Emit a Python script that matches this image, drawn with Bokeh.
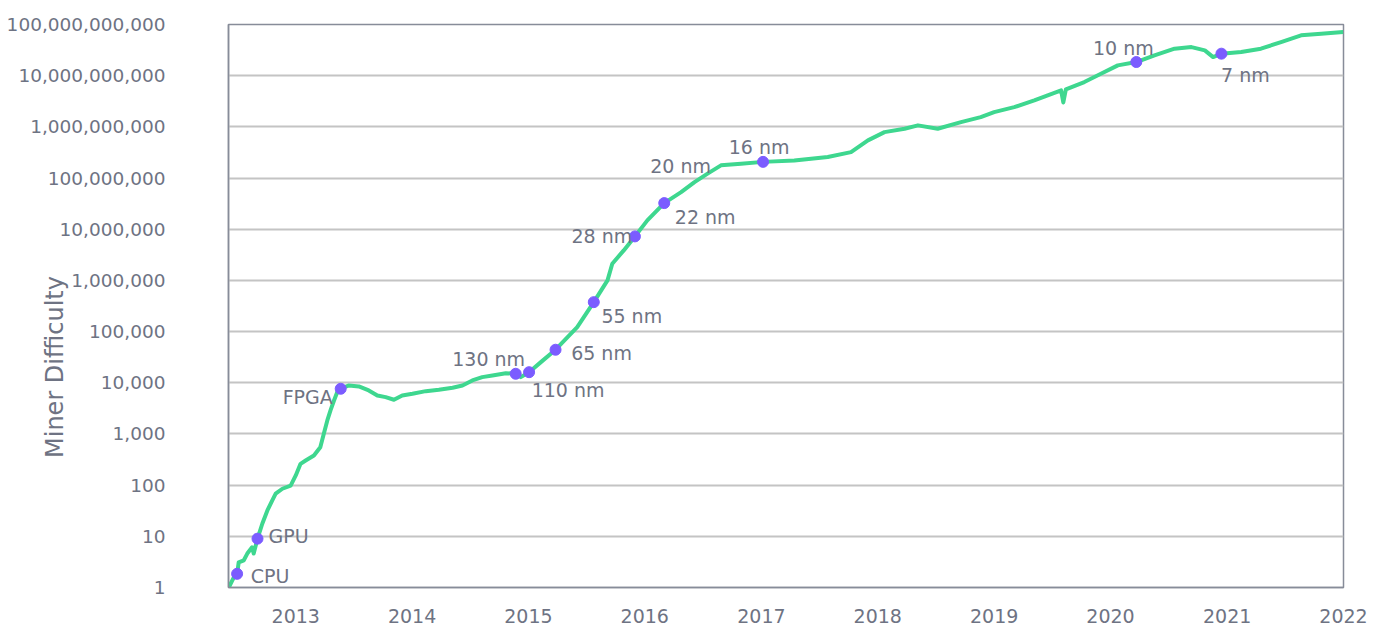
from datetime import datetime
from bokeh.plotting import figure
from bokeh.models import Range1d, FixedTicker, ColumnDataSource
from bokeh.core.properties import value
from bokeh.embed import file_html
from bokeh.resources import INLINE

# ---------------- data ----------------
dates = [
    "2012-06-05", "2012-06-21", "2012-07-01", "2012-07-06", "2012-07-22", "2012-08-02",
    "2012-08-17", "2012-08-22", "2012-09-03", "2012-09-18", "2012-10-04", "2012-10-19",
    "2012-10-30", "2012-11-20", "2012-12-16", "2013-01-01", "2013-01-16", "2013-02-01",
    "2013-02-27", "2013-03-19", "2013-03-30", "2013-04-10", "2013-04-20", "2013-05-01",
    "2013-05-11", "2013-05-22", "2013-06-17", "2013-07-18", "2013-08-18", "2013-09-14",
    "2013-10-10", "2013-11-05", "2013-12-01", "2014-01-02", "2014-02-13", "2014-03-26",
    "2014-05-08", "2014-06-08", "2014-07-09", "2014-08-09", "2014-09-10", "2014-10-22",
    "2014-11-22", "2014-12-08", "2015-01-03", "2015-02-09", "2015-03-27", "2015-06-03",
    "2015-07-25", "2015-09-06", "2015-09-21", "2015-10-27", "2015-12-01", "2016-01-09",
    "2016-03-02", "2016-04-24", "2016-06-05", "2016-07-16", "2016-08-27", "2016-10-29",
    "2017-01-06", "2017-04-14", "2017-07-28", "2017-10-09", "2017-12-01", "2018-01-22",
    "2018-03-26", "2018-05-07", "2018-07-08", "2018-09-19", "2018-11-20", "2019-01-01",
    "2019-03-05", "2019-05-07", "2019-06-18", "2019-07-30", "2019-08-06", "2019-08-14",
    "2019-10-11", "2019-12-02", "2020-01-24", "2020-03-22", "2020-05-18", "2020-07-20",
    "2020-09-11", "2020-10-23", "2020-11-18", "2020-12-14", "2021-02-14", "2021-04-17",
    "2021-06-19", "2021-08-21", "2021-10-23", "2021-12-31",
]
difficulty = [
    1.0, 1.6, 1.85, 3.1, 3.4, 4.6,
    6.1, 4.6, 9.0, 17.6, 32, 50,
    68, 85, 98, 155, 261, 303,
    380, 552, 1010, 1840, 2880, 4510,
    6550, 7640, 8870, 8480, 7080, 5650,
    5240, 4660, 5650, 6100, 6860, 7310,
    8000, 8870, 11100, 12900, 13900, 15400,
    15000, 12900, 16100, 25300, 44200, 122000,
    376000, 1.0e6, 2.12e6, 3.86e6, 7.24e6, 1.49e7,
    3.24e7, 5.3e7, 8.3e7, 1.22e8, 1.77e8, 1.91e8,
    2.07e8, 2.21e8, 2.57e8, 3.21e8, 5.44e8, 7.9e8,
    9.2e8, 1.07e9, 9.2e8, 1.24e9, 1.55e9, 1.94e9,
    2.43e9, 3.29e9, 4.12e9, 5.16e9, 3.0e9, 5.4e9,
    7.5e9, 1.09e10, 1.59e10, 1.85e10, 2.49e10, 3.37e10,
    3.62e10, 3.12e10, 2.31e10, 2.69e10, 2.89e10, 3.37e10,
    4.54e10, 6.14e10, 6.62e10, 7.11e10,
]

milestone_names = ["CPU", "GPU", "FPGA", "130 nm", "110 nm", "65 nm", "55 nm",
                   "28 nm", "22 nm", "16 nm", "10 nm", "7 nm"]
milestone_dates = ["2012-07-01", "2012-09-03", "2013-05-22", "2014-11-22", "2015-01-03",
                   "2015-03-27", "2015-07-25", "2015-12-01", "2016-03-02", "2017-01-06",
                   "2020-03-22", "2020-12-14"]
milestone_values = [1.85, 9.0, 7640, 15000, 16100, 44200, 376000,
                    7.24e6, 3.24e7, 2.07e8, 1.85e10, 2.69e10]

# label without a visible marker
extra_label_names = ["20 nm"]
extra_label_dates = ["2016-07-16"]
extra_label_values = [1.22e8]

y_title = "Miner Difficulty"
year_ticks = list(range(2013, 2023))
decade_ticks = [10 ** k for k in range(0, 12)]

# ---------------- styling ----------------
GREEN = "#3ed78f"
PURPLE = "#7b5cff"
TEXT = "#6e7383"
FONT = "DejaVu Sans"
AXIS = "#878c99"

# label offsets (screen px) for each milestone label, in order
dot_dx = [33, 31, -33, -27, 39, 46, 38, -33, 41, -4, -13, 24]
dot_dy = [2, -3, 8, -15, 18, 3, 14, 0, 14, -15, -14, 21]
extra_dx = [-27]
extra_dy = [-8]
TITLE_PAD = "\u00a0" * 16   # shifts the axis title below the frame centre


def d(s):
    return datetime.strptime(s, "%Y-%m-%d")


def ms(dt):
    return (dt - datetime(1970, 1, 1)).total_seconds() * 1000.0


p = figure(width=1375, height=625, x_axis_type="datetime", y_axis_type="log",
           x_range=Range1d(d("2012-06-04"), d("2022-01-01")),
           y_range=Range1d(1, 1e11),
           output_backend="svg", toolbar_location=None,
           min_border_left=228, min_border_right=32, min_border_top=24, min_border_bottom=38)
p.background_fill_color = "white"
p.border_fill_color = "white"
p.outline_line_color = AXIS
p.outline_line_width = 1.5

# axes
xt = [ms(datetime(y, 1, 1)) for y in year_ticks]
p.xaxis.ticker = FixedTicker(ticks=xt)
p.xaxis.major_label_overrides = {t: str(y) for t, y in zip(xt, year_ticks)}
p.yaxis.ticker = FixedTicker(ticks=[float(t) for t in decade_ticks])
p.yaxis.major_label_overrides = {float(t): f"{t:,}" for t in decade_ticks}

for ax in (p.xaxis[0], p.yaxis[0]):
    ax.major_tick_line_color = None
    ax.minor_tick_line_color = None
    ax.axis_line_color = AXIS
    ax.axis_line_width = 1.5
    ax.major_label_text_color = TEXT
    ax.major_label_text_font = FONT
    ax.major_label_text_font_size = "19px"
p.yaxis.major_label_text_font_size = "18.5px"
p.xaxis.major_label_standoff = 15
p.yaxis.major_label_standoff = 57

p.yaxis.axis_label = y_title + TITLE_PAD
p.yaxis.axis_label_standoff = -65
p.yaxis.axis_label_text_font = FONT
p.yaxis.axis_label_text_font_size = "24px"
p.yaxis.axis_label_text_font_style = "normal"
p.yaxis.axis_label_text_color = TEXT

p.xgrid.grid_line_color = None
p.ygrid.grid_line_color = "#c4c4c4"
p.ygrid.grid_line_width = 2

# line
src = ColumnDataSource(dict(x=[d(s) for s in dates], y=difficulty))
p.line("x", "y", source=src, line_color=GREEN, line_width=4, line_join="round")

# milestone dots
msrc = ColumnDataSource(dict(x=[d(s) for s in milestone_dates], y=milestone_values,
                             name=milestone_names, dx=dot_dx, dy=dot_dy))
p.scatter("x", "y", source=msrc, size=11, fill_color=PURPLE, line_color=PURPLE)
p.text("x", "y", text="name", source=msrc, x_offset="dx", y_offset="dy",
       text_align="center", text_baseline="middle", text_color=TEXT,
       text_font=value(FONT), text_font_size="19px")

esrc = ColumnDataSource(dict(x=[d(s) for s in extra_label_dates], y=extra_label_values,
                             name=extra_label_names, dx=extra_dx, dy=extra_dy))
p.text("x", "y", text="name", source=esrc, x_offset="dx", y_offset="dy",
       text_align="center", text_baseline="middle", text_color=TEXT,
       text_font=value(FONT), text_font_size="19px")

open("out.html", "w").write(file_html(p, INLINE))
